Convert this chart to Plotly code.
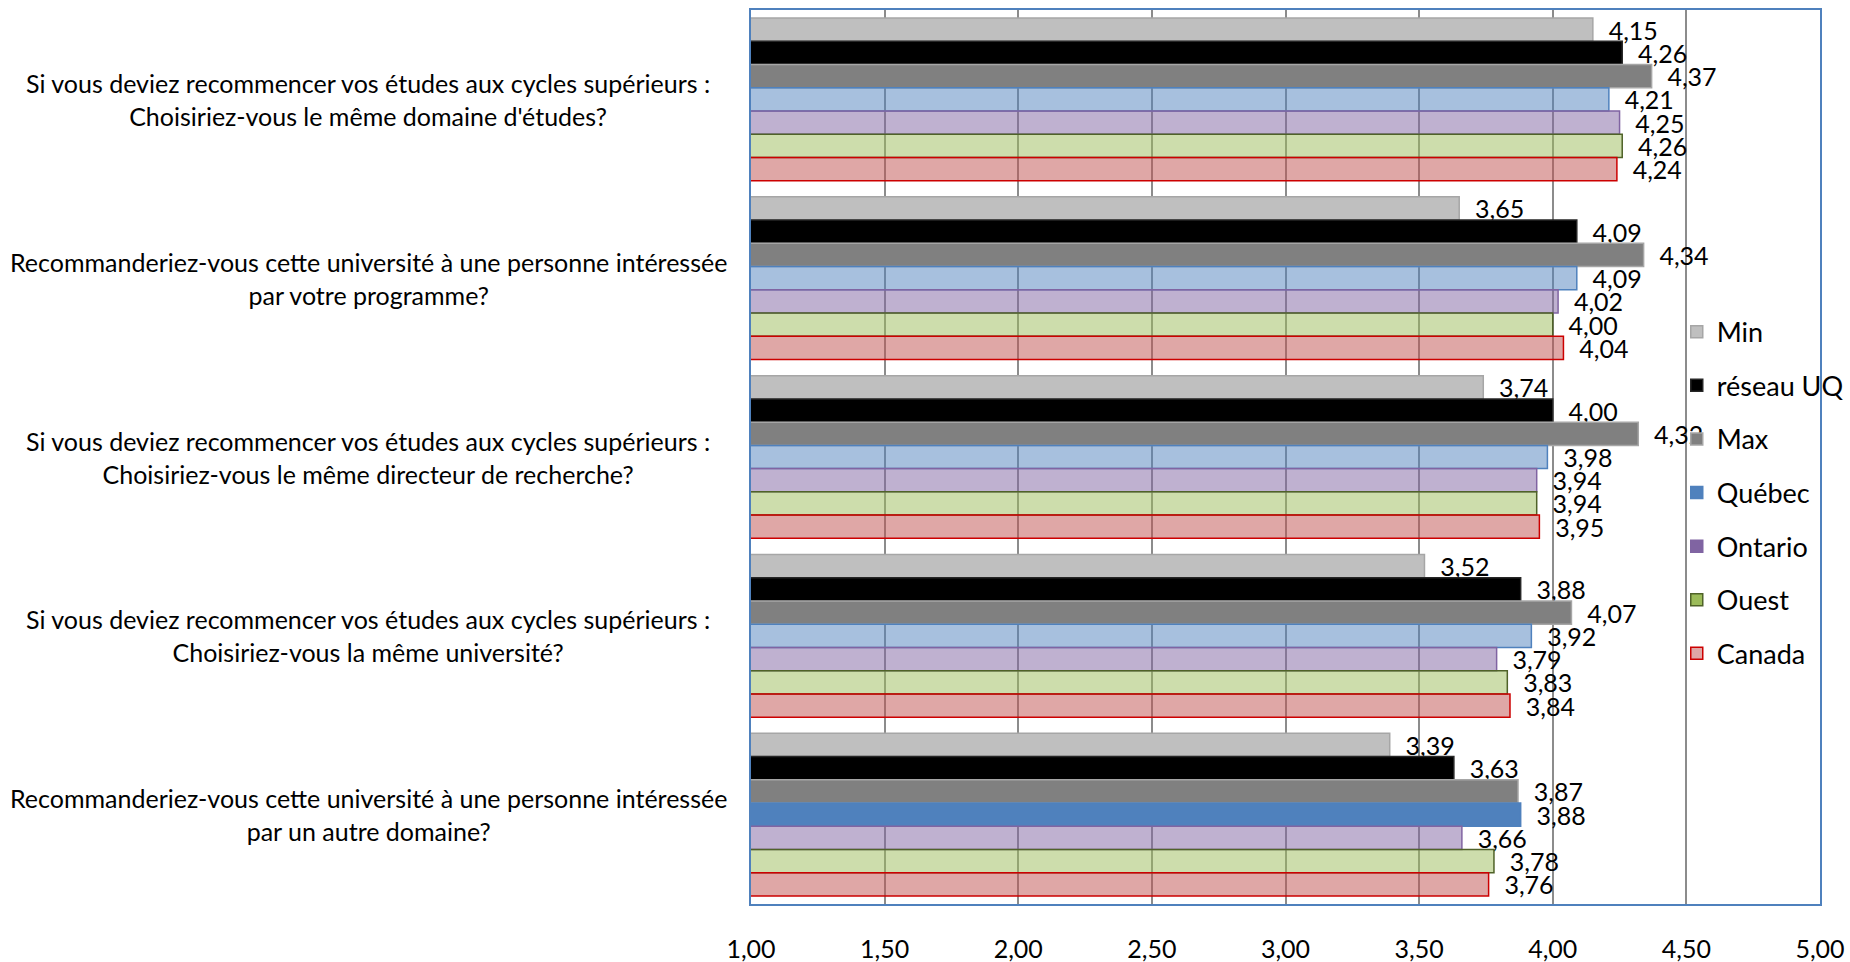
import plotly.graph_objects as go

questions = [
    "Si vous deviez recommencer vos études aux cycles supérieurs :<br>Choisiriez-vous le même domaine d'études?",
    "Recommanderiez-vous cette université à une personne intéressée<br>par votre programme?",
    "Si vous deviez recommencer vos études aux cycles supérieurs :<br>Choisiriez-vous le même directeur de recherche?",
    "Si vous deviez recommencer vos études aux cycles supérieurs :<br>Choisiriez-vous la même université?",
    "Recommanderiez-vous cette université à une personne intéressée<br>par un autre domaine?",
]
cats = ["Q1", "Q2", "Q3", "Q4", "Q5"]

series_names = ["Min", "réseau UQ", "Max", "Québec", "Ontario", "Ouest", "Canada"]
v_min = [4.15, 3.65, 3.74, 3.52, 3.39]
v_uq = [4.26, 4.09, 4.00, 3.88, 3.63]
v_max = [4.37, 4.34, 4.32, 4.07, 3.87]
v_quebec = [4.21, 4.09, 3.98, 3.92, 3.88]
v_ontario = [4.25, 4.02, 3.94, 3.79, 3.66]
v_ouest = [4.26, 4.00, 3.94, 3.83, 3.78]
v_canada = [4.24, 4.04, 3.95, 3.84, 3.76]
values = [v_min, v_uq, v_max, v_quebec, v_ontario, v_ouest, v_canada]

qc_fill = ["rgba(79,129,189,0.5)"] * 4 + ["#4F81BD"]
fills = ["#BFBFBF", "#000000", "#808080", qc_fill,
         "rgba(128,100,162,0.5)", "rgba(155,187,89,0.5)", "rgba(192,80,77,0.5)"]
lines = ["#A6A6A6", "#262626", "#A6A6A6", "#4F81BD", "#8064A2", "#4F6228", "#CC0000"]
legend_fills = ["#BFBFBF", "#000000", "#808080", "#4F81BD", "#8064A2", "#9BBB59",
                "rgba(192,80,77,0.5)"]

FONT = "Lato, Calibri, sans-serif"

fig = go.Figure()
for name, vals, fc, lc in zip(series_names, values, fills, lines):
    fig.add_trace(go.Bar(
        y=cats, x=vals, name=name, orientation="h", showlegend=False,
        marker=dict(color=fc, line=dict(color=lc, width=1.5)),
        texttemplate="\u00a0\u00a0%{x:.2f}", textposition="outside",
        textfont=dict(size=25, color="#000000", family=FONT),
        cliponaxis=False, constraintext="none", hoverinfo="x+name",
    ))

# legend swatches (solid colours, as in the reference legend)
for name, fc, lc in zip(series_names, legend_fills, lines):
    fig.add_trace(go.Bar(
        y=[cats[0]], x=[0], name=name, orientation="h", yaxis="y2",
        legendgroup=name, showlegend=True,
        marker=dict(color=fc, line=dict(color=lc, width=1.5)),
        hoverinfo="skip",
    ))

for c, q in zip(cats, questions):
    fig.add_annotation(
        x=-0.358, xref="paper", y=c, yref="y", text=q, showarrow=False,
        xanchor="center", yanchor="middle", align="center",
        font=dict(size=25, color="#000000", family=FONT),
    )

fig.update_layout(
    width=1850, height=962,
    margin=dict(l=751, r=30, t=10, b=58, autoexpand=False),
    paper_bgcolor="white", plot_bgcolor="white",
    separators=", ",
    barmode="group", bargap=0.09, bargroupgap=0,
    font=dict(family=FONT, color="#000000"),
    xaxis=dict(
        range=[1, 5], dtick=0.5, tick0=1, tickformat=".2f",
        showgrid=True, gridcolor="#8C8C8C", gridwidth=1.5,
        showline=True, linecolor="#4F81BD", linewidth=2, mirror=True,
        zeroline=False, ticks="", ticklabelstandoff=22, automargin=False,
        tickfont=dict(size=25, color="#000000", family=FONT),
    ),
    yaxis=dict(
        categoryorder="array", categoryarray=cats, autorange="reversed",
        showticklabels=False, showgrid=False, ticks="", automargin=False,
        showline=True, linecolor="#4F81BD", linewidth=2, mirror=True,
    ),
    yaxis2=dict(overlaying="y", visible=False, showgrid=False, automargin=False),
    legend=dict(
        x=0.866, xanchor="left", y=0.667, yanchor="top",
        traceorder="grouped", tracegroupgap=15.5,
        bgcolor="rgba(0,0,0,0)", borderwidth=0,
        font=dict(size=27, color="#000000", family=FONT),
    ),
)

fig.write_html(
    "out.html",
    config={"displayModeBar": False},
    post_script="document.body.style.margin='0';document.body.style.overflow='hidden';",
)
